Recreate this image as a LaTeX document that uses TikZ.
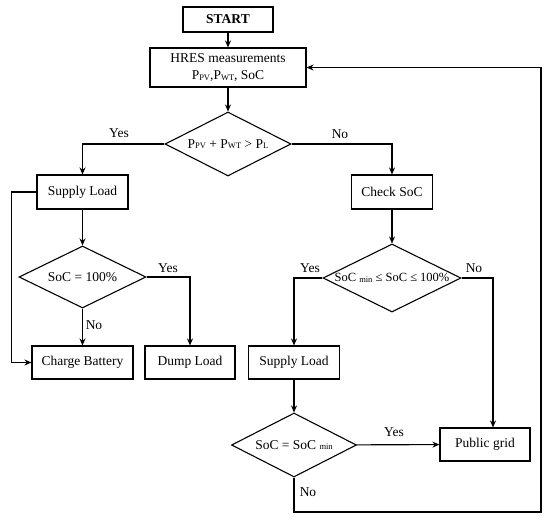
\documentclass[tikz,border=0pt]{standalone}
\usepackage{fontspec}
\setmainfont{Liberation Serif}
\usetikzlibrary{arrows.meta,shapes.geometric}
\newcommand\lowsub[1]{\raisebox{-0.1ex}{\fontsize{8.5}{9}\selectfont #1}}
\begin{document}
\begin{tikzpicture}[x=1pt,y=-1pt,
 every node/.style={font=\fontsize{13.5}{15}\selectfont},
 box/.style={draw, line width=1.1pt, inner sep=2pt, align=center},
 dec/.style={draw, diamond, line width=1.1pt, inner sep=0pt},
 arr/.style={line width=1.1pt, -{Stealth[length=7pt,width=6pt]}},
 lbl/.style={inner sep=0pt}]
\fill[white] (0,0) rectangle (550,522);
\useasboundingbox (0,0) rectangle (550,522);
% nodes
\node[box, minimum width=90pt, minimum height=25pt, font=\fontsize{13.5}{15}\selectfont\bfseries] (start) at (228,19.5) {START};
\node[box, minimum width=156pt, minimum height=39pt] (hres) at (228,67.5) {HRES measurements\\[2pt]P\lowsub{PV},P\lowsub{WT}, SoC};
\node[dec, minimum width=126pt, minimum height=64pt, label=center:{P\lowsub{PV} + P\lowsub{WT} > P\lowsub{L}}] (d1) at (228,144) {};
\node[box, minimum width=91pt, minimum height=34pt] (sl1) at (82.5,192) {Supply Load};
\node[box, minimum width=81pt, minimum height=34pt] (chk) at (392,192) {Check SoC};
\node[dec, minimum width=127pt, minimum height=62pt, label=center:{SoC = 100\%}] (d2) at (82.5,277) {};
\node[dec, minimum width=138pt, minimum height=68pt, label={[font=\fontsize{12.5}{14}\selectfont]center:SoC \lowsub{min} ≤ SoC ≤ 100\%}] (d3) at (392,278) {};
\node[box, minimum width=101pt, minimum height=33pt] (cb) at (82.5,362.5) {Charge Battery};
\node[box, minimum width=90pt, minimum height=33pt] (dump) at (190,362.5) {Dump Load};
\node[box, minimum width=91pt, minimum height=33pt] (sl2) at (294,362.5) {Supply Load};
\node[dec, minimum width=125pt, minimum height=64pt, label=center:{SoC = SoC \lowsub{min}}] (d4) at (294,445) {};
\node[box, minimum width=90pt, minimum height=33pt] (pg) at (485,444.5) {Public grid};
\coordinate (lp) at (541,512);
% connectors
\draw[arr] (start) -- (hres);
\draw[arr] (hres) -- (d1);
\draw[arr] (d1.west) -| (sl1.north);
\draw[arr] (d1.east) -| (chk.north);
\draw[arr] (chk) -- (d3);
\draw[arr] (sl1) -- (d2);
\draw[arr] (sl1.west) -- ++(-25,0) |- (cb.west);
\draw[arr] (d2) -- (cb);
\draw[arr] (d2.east) -| (dump.north);
\draw[arr] (d3.west) -| (sl2.north);
\draw[arr] (d3.east) -| ([xshift=8pt]pg.north);
\draw[arr] (sl2) -- (d4);
\draw[arr] (d4) -- (pg);
\draw[arr] (d4.south) |- (lp) |- (hres.east);
% labels
\node[lbl] (y1) at (119,133) {Yes};
\node[lbl] (n1) at (340,134) {No};
\node[lbl] (y2) at (168,268) {Yes};
\node[lbl] (n2) at (94,325) {No};
\node[lbl] (y3) at (310,268) {Yes};
\node[lbl] (n3) at (474,268) {No};
\node[lbl] (y4) at (394,432) {Yes};
\node[lbl] (n4) at (308,492) {No};
\end{tikzpicture}
\end{document}
